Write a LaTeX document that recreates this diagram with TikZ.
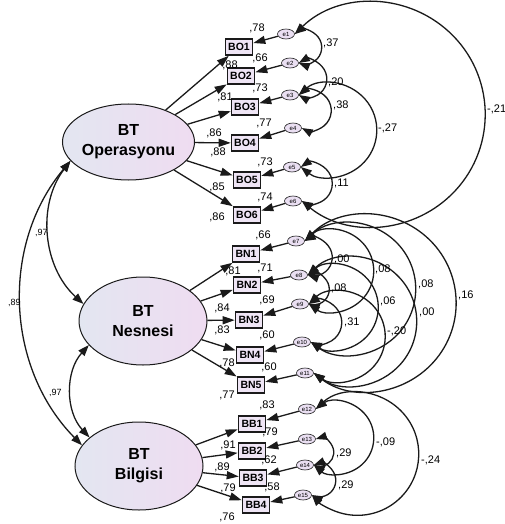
\documentclass[tikz,border=0pt]{standalone}
\usepackage{fontspec}
\setmainfont{Liberation Sans}
\usetikzlibrary{shapes.geometric,arrows.meta,calc}

\definecolor{latA}{HTML}{E3E6F1}
\definecolor{latB}{HTML}{EFDCF1}
\definecolor{boxfill}{HTML}{EFE5F5}
\definecolor{errfill}{HTML}{EADFF2}
\definecolor{ink}{HTML}{1A1A1A}

\newdimen\cvxa \newdimen\cvya \newdimen\cvxb \newdimen\cvyb
% circular covariance arc from #1 to #2, bulging to the left of the travel direction by #3 (pt)
\newcommand{\covarc}[3]{%
  \path (#1) coordinate (cvA) (#2) coordinate (cvB);%
  \pgfextractx{\cvxa}{\pgfpointanchor{cvA}{center}}%
  \pgfextracty{\cvya}{\pgfpointanchor{cvA}{center}}%
  \pgfextractx{\cvxb}{\pgfpointanchor{cvB}{center}}%
  \pgfextracty{\cvyb}{\pgfpointanchor{cvB}{center}}%
  \pgfmathsetmacro\cvH{5*veclen((\cvxb-\cvxa)/10,(\cvyb-\cvya)/10)}%
  \pgfmathsetmacro\cvR{(#3)/2+(\cvH/(#3))*\cvH/2}%
  \pgfmathsetmacro\cvP{atan2(\cvyb-\cvya,\cvxb-\cvxa)}%
  \pgfmathsetmacro\cvS{2*atan2(\cvH,\cvR-(#3))}%
  \pgfmathsetmacro\cvA{\cvP+90+\cvS/2}%
  \draw[cov] (cvA) arc[start angle=\cvA, delta angle=-\cvS, radius=\cvR pt];%
}

\tikzset{
  lat/.style={ellipse, draw=ink, line width=1pt, left color=latA, right color=latB,
    align=center, inner sep=0pt, font=\fontsize{16}{20}\selectfont\bfseries},
  obs/.style={rectangle, draw=ink, line width=1.6pt, fill=boxfill, minimum width=27pt,
    minimum height=16pt, inner sep=1pt, font=\fontsize{10.5}{12}\selectfont\bfseries},
  err/.style={ellipse, draw=ink, line width=0.6pt, fill=errfill, minimum width=17pt,
    minimum height=10pt, inner sep=0.5pt, font=\fontsize{6}{7}\selectfont},
  reg/.style={draw=ink, line width=1.3pt, -{Triangle[length=12pt,width=8pt]}},
  cov/.style={draw=ink, line width=1.3pt,
    {Triangle[length=11pt,width=8pt]}-{Triangle[length=11pt,width=8pt]}},
  lbl/.style={anchor=west, inner sep=0pt, font=\fontsize{11}{12}\selectfont},
  num/.style={inner sep=0pt, font=\fontsize{11}{12}\selectfont},
  lcov/.style={anchor=west, inner sep=0pt, font=\fontsize{9}{10}\selectfont},
}

\begin{document}
\begin{tikzpicture}[x=1pt,y=1pt]
\useasboundingbox (0,0) rectangle (505,-524);

% latent variables
\node[lat, minimum width=124pt, minimum height=76pt] (F1) at (128.5,-142) {BT\\Operasyonu};
\node[lat, minimum width=128pt, minimum height=88pt] (F2) at (143,-321) {BT\\Nesnesi};
\node[lat, minimum width=128pt, minimum height=88pt] (F3) at (139,-466) {BT\\Bilgisi};

% observed variables
\node[obs] (BO1) at (239,-47) {BO1};
\node[obs] (BO2) at (241,-76) {BO2};
\node[obs] (BO3) at (245,-107) {BO3};
\node[obs] (BO4) at (245,-143) {BO4};
\node[obs] (BO5) at (247,-180) {BO5};
\node[obs] (BO6) at (247,-215) {BO6};
\node[obs] (BN1) at (246,-254) {BN1};
\node[obs] (BN2) at (247,-285) {BN2};
\node[obs] (BN3) at (249,-320) {BN3};
\node[obs] (BN4) at (250,-355) {BN4};
\node[obs] (BN5) at (251,-385) {BN5};
\node[obs] (BB1) at (252,-424) {BB1};
\node[obs] (BB2) at (252,-451) {BB2};
\node[obs] (BB3) at (253,-478) {BB3};
\node[obs] (BB4) at (256,-505) {BB4};

% error terms
\node[err] (e1) at (286,-34) {e1};
\node[err] (e2) at (290,-63) {e2};
\node[err] (e3) at (290,-95) {e3};
\node[err] (e4) at (293,-128) {e4};
\node[err] (e5) at (292,-167) {e5};
\node[err] (e6) at (293,-201) {e6};
\node[err] (e7) at (296,-241) {e7};
\node[err] (e8) at (299,-275) {e8};
\node[err] (e9) at (300,-304) {e9};
\node[err] (e10) at (302,-342) {e10};
\node[err] (e11) at (305,-373) {e11};
\node[err] (e12) at (307,-409) {e12};
\node[err] (e13) at (307,-439) {e13};
\node[err] (e14) at (305,-465) {e14};
\node[err] (e15) at (303,-495) {e15};

% loadings
\foreach \i in {1,...,6} \draw[reg] (F1) -- (BO\i);
\foreach \i in {1,...,5} \draw[reg] (F2) -- (BN\i);
\foreach \i in {1,...,4} \draw[reg] (F3) -- (BB\i);

% error paths
\foreach \e/\b in {1/BO1,2/BO2,3/BO3,4/BO4,5/BO5,6/BO6,7/BN1,8/BN2,9/BN3,10/BN4,11/BN5,12/BB1,13/BB2,14/BB3,15/BB4}
  \draw[reg] (e\e) -- (\b);

% error covariances
\covarc{e1.east}{e2.east}{25}
\covarc{e2.east}{e3.east}{28}
\covarc{e3.east}{e4.east}{31}
\covarc{e3.east}{e5.east}{77}
\covarc{e5.east}{e6.east}{31}
\covarc{e1.east}{e6.east}{187}
\covarc{e7.east}{e8.east}{26}
\covarc{e8.east}{e9.east}{21}
\covarc{e9.east}{e10.east}{32}
\covarc{e7.east}{e9.east}{67}
\covarc{e8.east}{e10.east}{69}
\covarc{e9.east}{e11.east}{74}
\covarc{e7.east}{e10.east}{108}
\covarc{e8.east}{e11.east}{106}
\covarc{e7.east}{e11.east}{147}
\covarc{e13.east}{e14.east}{19}
\covarc{e14.east}{e15.east}{23}
\covarc{e12.east}{e14.east}{59}
\covarc{e12.east}{e15.east}{105}

% latent covariances
\covarc{F2.164}{F1.198}{28}
\covarc{F3.160}{F1.198}{55}
\covarc{F3.150}{F2.204}{18}

% covariance labels
\node[lbl] (c1) at (323,-43) {,37};
\node[lbl] (c2) at (328,-82) {,20};
\node[lbl] (c3) at (333,-105) {,38};
\node[lbl] (c4) at (378,-128) {-,27};
\node[lbl] (c5) at (334,-183) {,11};
\node[lbl] (c6) at (487,-109) {-,21};
\node[lbl] (c7) at (334,-259) {,00};
\node[lbl] (c8) at (375,-269) {,08};
\node[lbl] (c9) at (331,-288) {,08};
\node[lbl] (c10) at (418,-284) {,08};
\node[lbl] (c11) at (380,-301) {,06};
\node[lbl] (c12) at (419,-312) {,00};
\node[lbl] (c13) at (344,-322) {,31};
\node[lbl] (c14) at (387,-331) {-,20};
\node[lbl] (c15) at (458,-295) {,16};
\node[lbl] (c16) at (336,-453) {,29};
\node[lbl] (c17) at (338,-485) {,29};
\node[lbl] (c18) at (376,-442) {-,09};
\node[lbl] (c19) at (421,-460) {-,24};

\node[lcov] (l1) at (35,-233) {,97};
\node[lcov] (l2) at (8,-303) {,89};
\node[lcov] (l3) at (49,-393) {,97};

% loadings and R2
\node[num] (n1) at (257,-28) {,78};
\node[num] (n2) at (230,-65) {,88};
\node[num] (n3) at (260,-58) {,66};
\node[num] (n4) at (260,-88) {,73};
\node[num] (n5) at (225,-97) {,81};
\node[num] (n6) at (264,-123) {,77};
\node[num] (n7) at (214,-133) {,86};
\node[num] (n8) at (218,-152) {,88};
\node[num] (n9) at (265,-162) {,73};
\node[num] (n10) at (217,-187) {,85};
\node[num] (n11) at (265,-197) {,74};
\node[num] (n12) at (217,-217) {,86};
\node[num] (n13) at (263,-235) {,66};
\node[num] (n14) at (233,-271) {,81};
\node[num] (n15) at (265,-268) {,71};
\node[num] (n16) at (222,-308) {,84};
\node[num] (n17) at (267,-300) {,69};
\node[num] (n18) at (222,-330) {,83};
\node[num] (n19) at (267,-335) {,60};
\node[num] (n20) at (227,-363) {,78};
\node[num] (n21) at (269,-367) {,60};
\node[num] (n22) at (227,-395) {,77};
\node[num] (n23) at (267,-405) {,83};
\node[num] (n24) at (270,-432) {,79};
\node[num] (n25) at (228,-445) {,91};
\node[num] (n26) at (269,-460) {,62};
\node[num] (n27) at (222,-467) {,89};
\node[num] (n28) at (272,-487) {,58};
\node[num] (n29) at (228,-488) {,79};
\node[num] (n30) at (227,-517) {,76};
\end{tikzpicture}
\end{document}
